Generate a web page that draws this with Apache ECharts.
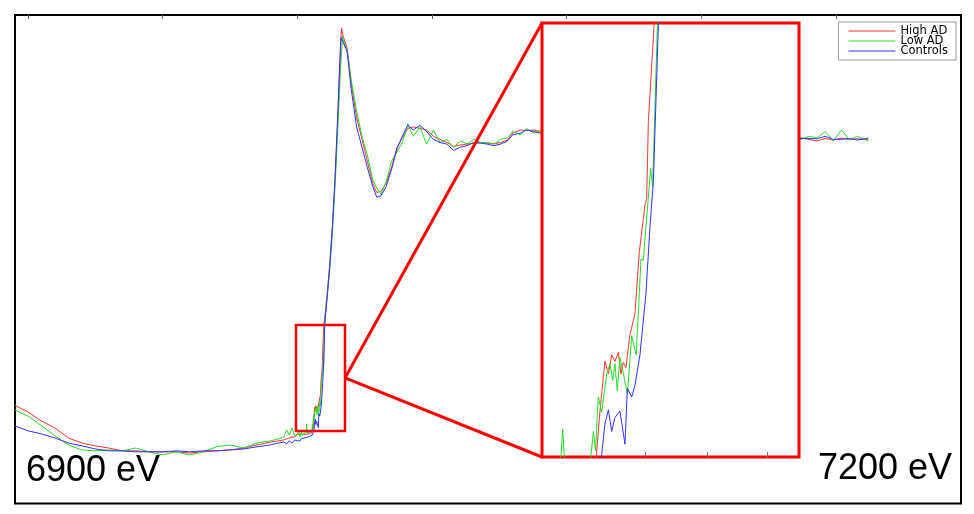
<!DOCTYPE html>
<html><head><meta charset="utf-8">
<script src="https://cdn.jsdelivr.net/npm/echarts@6/dist/echarts.min.js"></script>
<style>html,body{margin:0;padding:0;background:#fff}#c{width:974px;height:514px}</style>
</head><body><div id="c"></div>
<script>
// ---------- data (energy in eV, normalized absorption) ----------
const SERIES_NAMES = ['High AD', 'Low AD', 'Controls'];
const SERIES_COLORS = ['#ff3030', '#22dd22', '#3030ff'];

const PRE_E = [6895, 6900, 6905, 6910, 6915, 6920, 6925, 6930, 6935, 6940, 6945, 6950, 6955, 6960, 6965, 6970, 6975, 6980, 6985, 6990, 6993, 6995, 6996, 6997, 6998, 6999, 7000];
const HIGH_PRE = [0.152, 0.130, 0.101, 0.079, 0.047, 0.031, 0.022, 0.015, 0.006, 0.006, 0.003, 0.003, 0.003, -0.001, 0.003, 0.006, 0.009, 0.015, 0.025, 0.034, 0.038, 0.041, 0.044, 0.047, 0.050, 0.050, 0.057];
const LOW_PRE = [0.137, 0.117, 0.086, 0.054, 0.025, 0.009, 0.006, 0.009, 0.006, 0.015, 0.003, -0.007, 0.003, -0.007, 0.003, 0.019, 0.025, 0.015, 0.031, 0.038, 0.044, 0.050, 0.073, 0.057, 0.079, 0.054, 0.060];
const CTRL_PRE = [0.086, 0.070, 0.060, 0.047, 0.031, 0.022, 0.012, 0.006, 0.006, 0.003, 0.003, 0.003, 0.006, 0.003, 0.006, 0.006, 0.009, 0.012, 0.019, 0.025, 0.031, 0.034, 0.028, 0.038, 0.031, 0.041, 0.038];

const HIGH_EDGE_E = [7000.5, 7001, 7001.5, 7002, 7002.5, 7003, 7003.5, 7004, 7004.5, 7005, 7005.5, 7005.8, 7006.06, 7006.41, 7006.65, 7006.88, 7007.11, 7007.35, 7007.53, 7007.69, 7007.88, 7008.16, 7008.51, 7008.81, 7008.93, 7009.22, 7009.33, 7009.45, 7009.85, 7011, 7012, 7013, 7014, 7015, 7015.8, 7016.4];
const HIGH_EDGE = [0.057, 0.060, 0.055, 0.059, 0.061, 0.058, 0.062, 0.060, 0.064, 0.062, 0.066, 0.070, 0.106, 0.145, 0.135, 0.150, 0.145, 0.152, 0.135, 0.144, 0.140, 0.166, 0.182, 0.230, 0.231, 0.268, 0.272, 0.333, 0.408, 0.50, 0.60, 0.72, 0.87, 1.06, 1.26, 1.355];

const LOW_EDGE_E = [7000.5, 7001, 7001.5, 7002, 7002.5, 7003, 7003.3, 7003.45, 7003.6, 7004, 7004.5, 7005, 7005.4, 7005.6, 7005.75, 7005.94, 7006.18, 7006.53, 7006.76, 7006.95, 7007.11, 7007.27, 7007.46, 7007.69, 7007.98, 7008.28, 7008.59, 7008.75, 7008.93, 7009.09, 7009.28, 7009.61, 7009.75, 7010.08, 7011, 7012, 7013, 7014, 7015, 7016, 7016.8];
const LOW_EDGE = [0.068, 0.050, 0.065, 0.055, 0.062, 0.058, 0.066, 0.092, 0.062, 0.060, 0.066, 0.062, 0.068, 0.090, 0.075, 0.117, 0.105, 0.135, 0.143, 0.130, 0.143, 0.122, 0.148, 0.136, 0.119, 0.165, 0.150, 0.183, 0.225, 0.224, 0.250, 0.296, 0.282, 0.408, 0.49, 0.58, 0.70, 0.85, 1.03, 1.22, 1.33];

const CTRL_EDGE_E = [7000.5, 7001, 7001.5, 7002, 7002.5, 7003, 7003.5, 7004, 7004.5, 7005, 7005.5, 7005.8, 7006.18, 7006.41, 7006.65, 7006.88, 7007.11, 7007.46, 7007.57, 7007.81, 7007.98, 7008.28, 7008.51, 7008.86, 7009.28, 7009.56, 7009.80, 7010.15, 7011, 7012, 7013, 7014, 7015, 7016.2];
const CTRL_EDGE = [0.042, 0.038, 0.046, 0.040, 0.047, 0.043, 0.049, 0.045, 0.052, 0.048, 0.056, 0.060, 0.072, 0.096, 0.107, 0.090, 0.101, 0.106, 0.105, 0.080, 0.124, 0.117, 0.126, 0.150, 0.198, 0.250, 0.286, 0.408, 0.49, 0.59, 0.72, 0.88, 1.08, 1.325];

const POST_E = [7017, 7018.5, 7020, 7022, 7024, 7026, 7028, 7029.5, 7031, 7033, 7035, 7037, 7039, 7041, 7043, 7045.5, 7048, 7050.5, 7053, 7055.5, 7058, 7060.5, 7063, 7065.5, 7068, 7070.5, 7073, 7075.5, 7078, 7080, 7083, 7085, 7088, 7090, 7100, 7120, 7140, 7160, 7180, 7187, 7190, 7193, 7196, 7199, 7202, 7205, 7208, 7212];
const HIGH_POST = [1.33, 1.29, 1.18, 1.07, 1.00, 0.93, 0.86, 0.83, 0.835, 0.86, 0.91, 0.975, 1.005, 1.035, 1.04, 1.035, 1.03, 1.01, 1.0, 0.99, 0.978, 0.982, 0.985, 0.988, 0.99, 0.988, 0.986, 0.99, 0.998, 1.02, 1.03, 1.028, 1.03, 1.024, 1.0, 0.995, 0.99, 1.0, 1.0, 1.005, 1.0, 0.995, 1.003, 0.998, 1.004, 1.0, 1.002, 1.0];
const LOW_POST = [1.32, 1.28, 1.19, 1.09, 1.01, 0.95, 0.87, 0.845, 0.825, 0.865, 0.93, 0.96, 0.99, 1.05, 1.01, 1.04, 0.985, 1.03, 0.99, 1.0, 0.975, 0.995, 0.985, 1.0, 0.99, 0.99, 0.985, 1.0, 1.005, 1.025, 1.015, 1.035, 1.02, 1.03, 1.0, 0.99, 0.995, 1.0, 1.0, 1.0, 1.01, 1.005, 1.025, 0.995, 1.03, 0.998, 1.01, 0.995];
const CTRL_POST = [1.31, 1.28, 1.16, 1.04, 0.975, 0.91, 0.85, 0.815, 0.82, 0.85, 0.905, 0.97, 1.01, 1.045, 1.03, 1.045, 1.025, 1.0, 0.99, 0.985, 0.965, 0.975, 0.98, 0.99, 0.988, 0.985, 0.98, 0.985, 0.995, 1.015, 1.02, 1.03, 1.025, 1.02, 1.0, 0.99, 0.995, 1.0, 1.005, 1.003, 1.003, 1.002, 1.01, 1.0, 1.0, 1.003, 0.998, 1.004];

// axes / annotation values
const MAIN_X_RANGE = [6895.17, 7246.4];
const MAIN_Y_RANGE = [-0.162, 1.397];
const MAIN_TICKS = [6900, 6950, 7000, 7050, 7100, 7150, 7200];
const ZOOM_BOX_E = [6999.5, 7017.7];
const ZOOM_BOX_Y = [0.0695, 0.4077];
const INSET_X_RANGE = [7002, 7020];
const INSET_Y_RANGE = [0.07, 0.41];
const INSET_TICKS = [7009.2, 7013.55, 7017.8];
const END_LABELS = ['6900 eV', '7200 eV'];

// ---------- build ----------
function pairs(xs, ys) { return xs.map((x, i) => [x, ys[i]]); }
const seriesData = [
  pairs(PRE_E, HIGH_PRE).concat(pairs(HIGH_EDGE_E, HIGH_EDGE), pairs(POST_E, HIGH_POST)),
  pairs(PRE_E, LOW_PRE).concat(pairs(LOW_EDGE_E, LOW_EDGE), pairs(POST_E, LOW_POST)),
  pairs(PRE_E, CTRL_PRE).concat(pairs(CTRL_EDGE_E, CTRL_EDGE), pairs(POST_E, CTRL_POST))
];

const chart = echarts.init(document.getElementById('c'), null, { renderer: 'canvas' });

const series = [];
SERIES_NAMES.forEach((name, i) => {
  series.push({
    name, type: 'line', xAxisIndex: 0, yAxisIndex: 0, data: seriesData[i],
    symbol: 'none', z: 2, color: SERIES_COLORS[i],
    lineStyle: { width: 1, color: SERIES_COLORS[i] }, animation: false
  });
});
SERIES_NAMES.forEach((name, i) => {
  series.push({
    name, type: 'line', xAxisIndex: 1, yAxisIndex: 1, data: seriesData[i],
    symbol: 'none', z: 4, clip: true, color: SERIES_COLORS[i],
    lineStyle: { width: 1, color: SERIES_COLORS[i] }, animation: false
  });
});

chart.setOption({
  animation: false,
  backgroundColor: '#fff',
  grid: [
    { left: 15, top: 15, right: 13, bottom: 10.5, show: true, borderColor: '#000', borderWidth: 2, z: 0 },
    { left: 542, top: 23, width: 257, height: 434, show: true, backgroundColor: '#fff', borderColor: '#ff0000', borderWidth: 3, z: 3 }
  ],
  xAxis: [
    { type: 'value', gridIndex: 0, min: MAIN_X_RANGE[0], max: MAIN_X_RANGE[1], position: 'top', z: 1,
      axisLine: { show: false, onZero: false }, splitLine: { show: false }, axisLabel: { show: false },
      axisTick: { show: true, inside: true, length: 4, customValues: MAIN_TICKS, lineStyle: { color: '#666', width: 1 } } },
    { type: 'value', gridIndex: 1, min: INSET_X_RANGE[0], max: INSET_X_RANGE[1], position: 'bottom', z: 6,
      axisLine: { show: false, onZero: false }, splitLine: { show: false }, axisLabel: { show: false },
      axisTick: { show: true, inside: true, length: 5, customValues: INSET_TICKS, lineStyle: { color: '#777', width: 1 } } }
  ],
  yAxis: [
    { type: 'value', gridIndex: 0, min: MAIN_Y_RANGE[0], max: MAIN_Y_RANGE[1],
      axisLine: { show: false, onZero: false }, axisTick: { show: false }, axisLabel: { show: false }, splitLine: { show: false } },
    { type: 'value', gridIndex: 1, min: INSET_Y_RANGE[0], max: INSET_Y_RANGE[1],
      axisLine: { show: false, onZero: false }, axisTick: { show: false }, axisLabel: { show: false }, splitLine: { show: false } }
  ],
  legend: {
    data: SERIES_NAMES, orient: 'vertical', right: 18, top: 22, z: 10,
    icon: 'rect', itemWidth: 47, itemHeight: 1, itemGap: -2,
    padding: [3, 8, 3, 10], borderColor: '#999', borderWidth: 1, backgroundColor: '#fff',
    textStyle: { fontSize: 11.5, fontFamily: 'DejaVu Sans', color: '#000', lineHeight: 10 }
  },
  series
});

// annotation: zoom box, connectors, energy labels
const p0 = chart.convertToPixel({ gridIndex: 0 }, [ZOOM_BOX_E[0], ZOOM_BOX_Y[1]]);
const p1 = chart.convertToPixel({ gridIndex: 0 }, [ZOOM_BOX_E[1], ZOOM_BOX_Y[0]]);
const gi = chart.getModel().getComponent('grid', 1).coordinateSystem.getRect();
const midY = (p0[1] + p1[1]) / 2;
chart.setOption({
  graphic: [
    { type: 'rect', z: 10, shape: { x: p0[0], y: p0[1], width: p1[0] - p0[0], height: p1[1] - p0[1] },
      style: { fill: 'none', stroke: '#ff0000', lineWidth: 2.5 } },
    { type: 'line', z: 10, shape: { x1: p1[0], y1: midY, x2: gi.x, y2: gi.y }, style: { stroke: '#ff0000', lineWidth: 3 } },
    { type: 'line', z: 10, shape: { x1: p1[0], y1: midY, x2: gi.x, y2: gi.y + gi.height }, style: { stroke: '#ff0000', lineWidth: 3 } },
    { type: 'text', z: 10, x: 26, y: 471,
      style: { text: END_LABELS[0], font: '36px "Liberation Sans", Arial, sans-serif', fill: '#000', align: 'left', verticalAlign: 'middle' } },
    { type: 'text', z: 10, x: 952, y: 469.5,
      style: { text: END_LABELS[1], font: '36px "Liberation Sans", Arial, sans-serif', fill: '#000', align: 'right', verticalAlign: 'middle' } }
  ]
});
</script>
</body></html>
